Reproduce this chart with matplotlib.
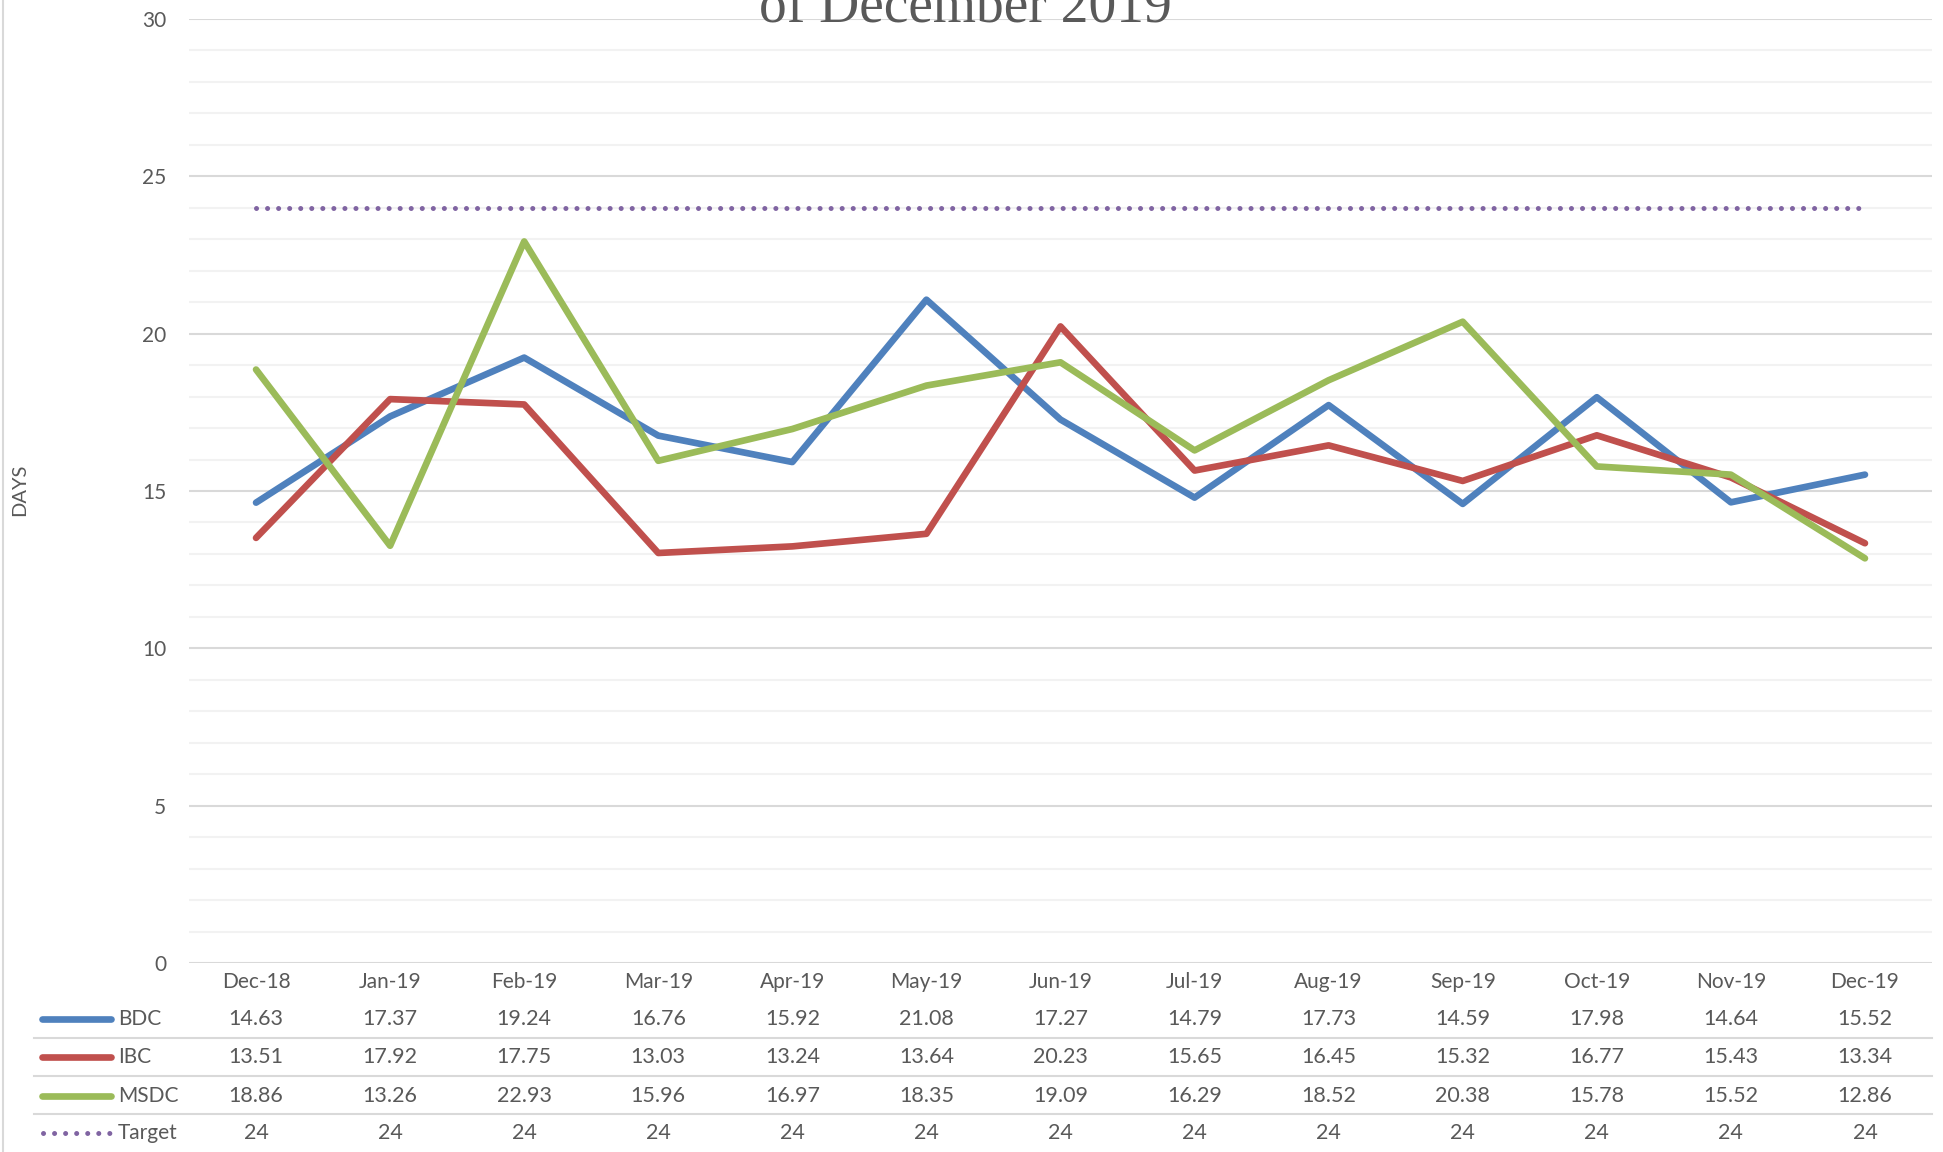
import numpy as np
import matplotlib.pyplot as plt
from matplotlib.lines import Line2D
import matplotlib.transforms as mtransforms

## DATA
months = ['Dec-18', 'Jan-19', 'Feb-19', 'Mar-19', 'Apr-19', 'May-19', 'Jun-19',
          'Jul-19', 'Aug-19', 'Sep-19', 'Oct-19', 'Nov-19', 'Dec-19']
bdc = [14.63, 17.37, 19.24, 16.76, 15.92, 21.08, 17.27, 14.79, 17.73, 14.59, 17.98, 14.64, 15.52]
ibc = [13.51, 17.92, 17.75, 13.03, 13.24, 13.64, 20.23, 15.65, 16.45, 15.32, 16.77, 15.43, 13.34]
msdc = [18.86, 13.26, 22.93, 15.96, 16.97, 18.35, 19.09, 16.29, 18.52, 20.38, 15.78, 15.52, 12.86]
target = [24] * 13

series_names = ['BDC', 'IBC', 'MSDC', 'Target']
series_vals = [bdc, ibc, msdc, target]
colors = ['#4F81BD', '#C0504D', '#9BBB59', '#8064A2']

## FIGURE
W, H = 1943, 1152
plt.rcParams['font.family'] = ['Lato', 'DejaVu Sans']
fig = plt.figure(figsize=(W / 100, H / 100), dpi=100)

# helpers: pixel -> figure fraction
def fx(px):
    return px / W

def fy(py):
    return 1 - py / H

grey_text = '#595959'
dotted = (0, (0.01, 2.2))
left, right, top, bottom = 189, 1932, 19, 963
ax = fig.add_axes([fx(left), fy(bottom), fx(right) - fx(left), fy(top) - fy(bottom)])

x = np.arange(len(months))
for name, vals, c in zip(series_names[:3], series_vals[:3], colors[:3]):
    ax.plot(x, vals, color=c, lw=4.8, solid_capstyle='round', solid_joinstyle='round', zorder=3)
ax.plot(x, target, color=colors[3], lw=3.6, linestyle=dotted, dash_capstyle='round', zorder=3)

ax.set_xlim(-0.5, len(months) - 0.5)
ax.set_ylim(0, 30)
ax.set_yticks(np.arange(0, 31, 5))
ax.set_yticks(np.arange(0, 31, 1), minor=True)
ax.grid(True, which='major', axis='y', color='#D9D9D9', lw=1.5, zorder=0)
ax.grid(True, which='minor', axis='y', color='#F2F2F2', lw=1.5, zorder=0)
# pad is in points: 16.5pt ~ 23px at 100 dpi
ax.tick_params(axis='y', which='both', length=0, pad=16.5, labelsize=15, labelcolor=grey_text)
ax.tick_params(axis='x', which='both', length=0, labelbottom=False)
for s in ax.spines.values():
    s.set_visible(False)
ax.set_axisbelow(True)

# title (second line, clipped at the top of the picture)
fig.text(fx(965), fy(22), 'of December 2019', ha='center', va='baseline',
         fontsize=40, color=grey_text, family=['Liberation Serif', 'DejaVu Serif'])

# y label
fig.text(fx(20), fy(490), 'DAYS', rotation=90, ha='center', va='center',
         fontsize=14.5, color=grey_text)

# left border of chart area
fig.add_artist(Line2D([fx(3), fx(3)], [0, 1], color='#D9D9D9', lw=1.5))

## DATA TABLE under the axes
trans = mtransforms.blended_transform_factory(ax.transData, fig.transFigure)
for i, m in enumerate(months):
    fig.text(i, fy(982), m, transform=trans, ha='center', va='center', fontsize=15, color=grey_text)

row_y = [1019, 1057, 1096, 1133]
for r, (name, vals, c) in enumerate(zip(series_names, series_vals, colors)):
    yy = fy(row_y[r])
    for i, v in enumerate(vals):
        txt = '%d' % v if name == 'Target' else '%.2f' % v
        fig.text(i, yy, txt, transform=trans, ha='center', va='center', fontsize=15.5, color=grey_text)
    # legend key
    if name == 'Target':
        fig.add_artist(Line2D([fx(43), fx(112)], [yy, yy], color=c, lw=3.6,
                              linestyle=dotted, dash_capstyle='round'))
    else:
        fig.add_artist(Line2D([fx(42), fx(111)], [yy, yy], color=c, lw=4.8,
                              solid_capstyle='round'))
    fig.text(fx(118), yy, name, ha='left', va='center', fontsize=15, color=grey_text)

# row separators
for py in [1038, 1076, 1114]:
    fig.add_artist(Line2D([fx(34), fx(right)], [fy(py), fy(py)], color='#D9D9D9', lw=1.5))

fig.savefig('out.png', dpi=100, facecolor='white')
